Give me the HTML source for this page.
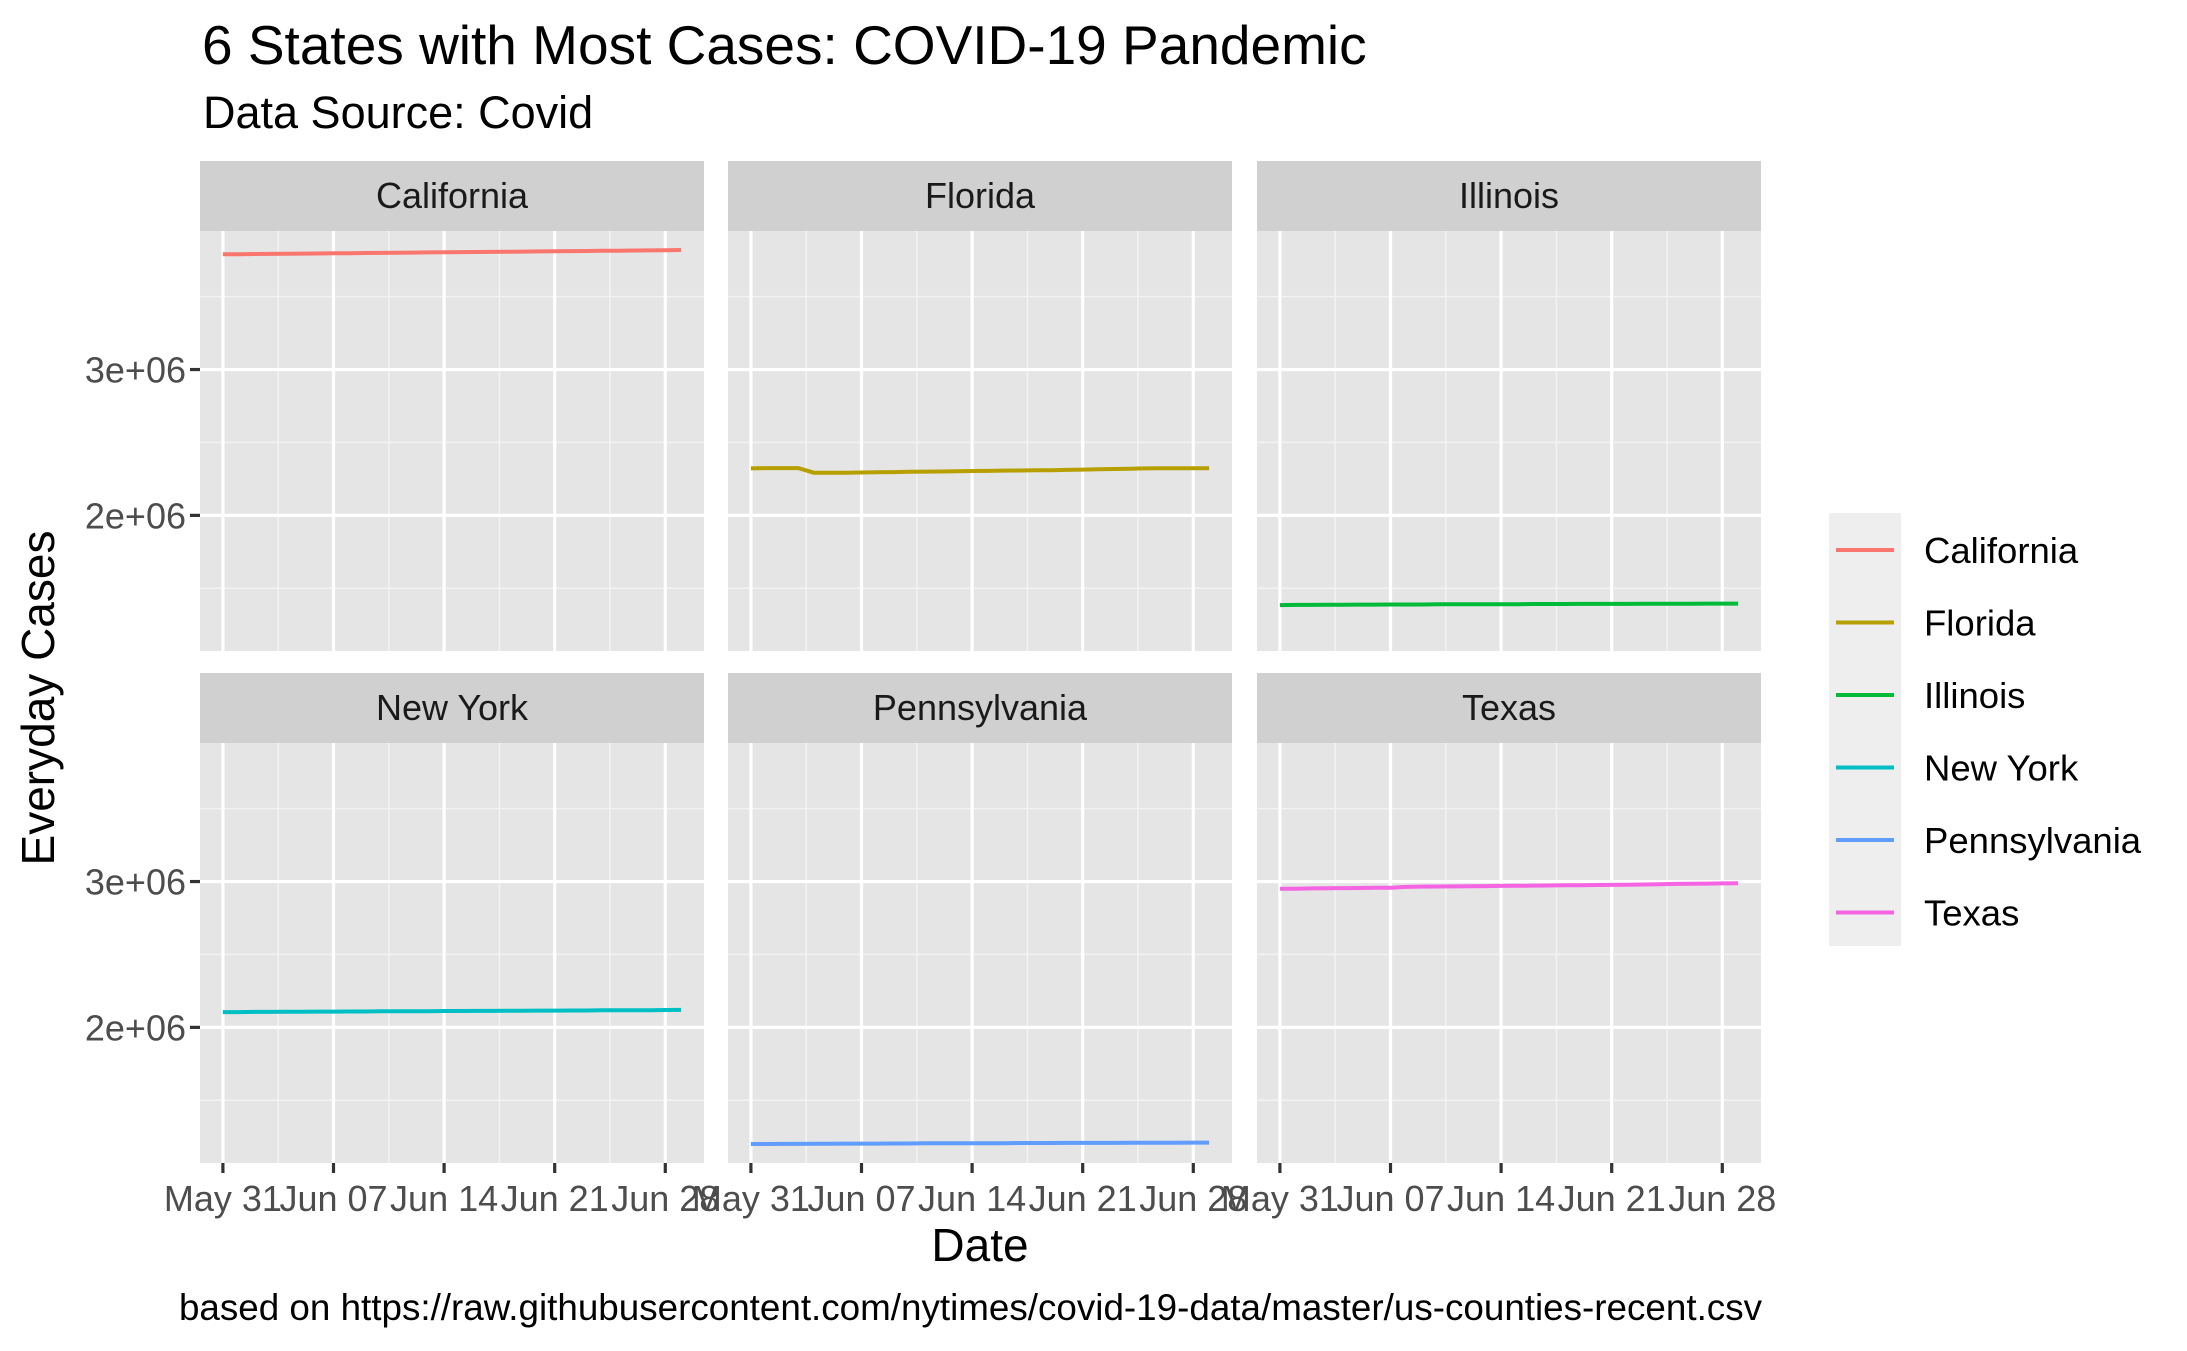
<!DOCTYPE html>
<html><head><meta charset="utf-8"><style>
html,body{margin:0;padding:0;background:#fff;}
svg{display:block;font-family:"Liberation Sans",Arial,sans-serif;}
</style></head><body>
<svg id="chart" width="2187" height="1351" viewBox="0 0 2187 1351">
<text x="202" y="64" font-size="55" fill="#000">6 States with Most Cases: COVID-19 Pandemic</text>
<text x="203" y="128" font-size="45" fill="#000">Data Source: Covid</text>
<text transform="translate(54,698) rotate(-90)" text-anchor="middle" font-size="46" fill="#000">Everyday Cases</text>
<text x="980" y="1261" text-anchor="middle" font-size="46" fill="#000">Date</text>
<text x="1762" y="1320" text-anchor="end" font-size="36.8" fill="#000">based on https://raw.githubusercontent.com/nytimes/covid-19-data/master/us-counties-recent.csv</text>
<g id="panels"></g>
<g id="legend"></g>
</svg>
<script>
const states = ["California","Florida","Illinois","New York","Pennsylvania","Texas"];
const colors = ["#F8766D","#B79F00","#00BA38","#00BFC4","#619CFF","#F564E3"];
const dayCount = 30; // May 31 .. Jun 29
const xTickDays = [0,7,14,21,28];
const xTickLabels = ["May 31","Jun 07","Jun 14","Jun 21","Jun 28"];
const yTicks = [2000000,3000000];
const yTickLabels = ["2e+06","3e+06"];
const caValues = [3.790,3.791,3.792,3.793,3.794,3.795,3.796,3.797,3.798,3.799,3.800,3.801,3.802,3.803,3.804,3.805,3.806,3.807,3.808,3.809,3.810,3.811,3.812,3.813,3.814,3.815,3.816,3.817,3.818,3.820];
const flValues = [2.322,2.324,2.324,2.324,2.292,2.292,2.292,2.294,2.296,2.297,2.299,2.300,2.301,2.303,2.304,2.305,2.307,2.308,2.309,2.310,2.312,2.314,2.316,2.318,2.320,2.322,2.323,2.323,2.323,2.323];
const ilValues = [1.385,1.386,1.386,1.387,1.387,1.388,1.388,1.389,1.389,1.389,1.390,1.390,1.390,1.391,1.391,1.391,1.392,1.392,1.392,1.393,1.393,1.393,1.393,1.394,1.394,1.394,1.394,1.395,1.395,1.395];
const nyValues = [2.105,2.105,2.106,2.106,2.107,2.107,2.108,2.108,2.109,2.109,2.110,2.110,2.111,2.111,2.112,2.112,2.113,2.113,2.114,2.114,2.115,2.115,2.116,2.116,2.117,2.117,2.118,2.118,2.119,2.120];
const paValues = [1.200,1.200,1.201,1.201,1.202,1.202,1.203,1.203,1.203,1.204,1.204,1.205,1.205,1.205,1.206,1.206,1.206,1.207,1.207,1.207,1.208,1.208,1.208,1.208,1.209,1.209,1.209,1.209,1.210,1.210];
const txValues = [2.950,2.951,2.953,2.954,2.955,2.956,2.957,2.958,2.963,2.965,2.966,2.967,2.968,2.969,2.970,2.971,2.972,2.973,2.974,2.975,2.976,2.977,2.978,2.980,2.982,2.984,2.985,2.986,2.987,2.988];
const seriesValues = [caValues,flValues,ilValues,nyValues,paValues,txValues];

const NS="http://www.w3.org/2000/svg";
function mk(tag,attrs,parent){const e=document.createElementNS(NS,tag);for(const k in attrs)e.setAttribute(k,attrs[k]);parent.appendChild(e);return e;}
const colX=[200,728,1257], panelW=504;
const rowStripTop=[161,673], rowPanelTop=[231,743], panelH=420;
const xMin=-1.45, xMax=30.45, yMin=1.07e6, yMax=3.95e6;
function sx(c,d){return colX[c]+(d-xMin)/(xMax-xMin)*panelW;}
function sy(r,v){return rowPanelTop[r]+panelH-(v-yMin)/(yMax-yMin)*panelH;}
const panels=document.getElementById('panels');
for(let i=0;i<6;i++){
  const c=i%3,r=Math.floor(i/3);
  const g=mk('g',{},panels);
  
  
  const strip=mk('rect',{x:colX[c],y:rowStripTop[r],width:panelW,height:70,fill:'#D0D0D0'},g);
  
  
  const st=mk('text',{x:colX[c]+panelW/2,y:rowStripTop[r]+47,'text-anchor':'middle','font-size':36,fill:'#1A1A1A'},g);
  st.textContent=states[i];
  
  
  const bg=mk('rect',{x:colX[c],y:rowPanelTop[r],width:panelW,height:panelH,fill:'#E5E5E5'},g);
  
  
  const top=rowPanelTop[r], bot=top+panelH, L=colX[c], R=L+panelW;
  [1.5e6,2.5e6,3.5e6].forEach(v=>{const y=sy(r,v);const l=mk('line',{x1:L,x2:R,y1:y,y2:y,stroke:'#F2F2F2','stroke-width':1.6},g);});
  [3.5,10.5,17.5,24.5].forEach(d=>{const x=sx(c,d);const l=mk('line',{x1:x,x2:x,y1:top,y2:bot,stroke:'#F2F2F2','stroke-width':1.6},g);});
  yTicks.forEach(v=>{const y=sy(r,v);const l=mk('line',{x1:L,x2:R,y1:y,y2:y,stroke:'#fff','stroke-width':3.2},g);});
  xTickDays.forEach(d=>{const x=sx(c,d);const l=mk('line',{x1:x,x2:x,y1:top,y2:bot,stroke:'#fff','stroke-width':3.2},g);});
  const vals=seriesValues[i];
  const pts=vals.map((v,d)=>sx(c,d).toFixed(1)+','+sy(r,v*1e6).toFixed(1)).join(' ');
  const pl=mk('polyline',{points:pts,fill:'none',stroke:colors[i],'stroke-width':4,'stroke-linejoin':'round'},g);
  
  
  if(c===0){
    yTicks.forEach((v,k)=>{const y=sy(r,v);
      const t=mk('line',{x1:L-10,x2:L,y1:y,y2:y,stroke:'#333','stroke-width':3.2},g);
      
      const tl=mk('text',{x:L-14,y:y+13,'text-anchor':'end','font-size':36,fill:'#4D4D4D'},g);
      tl.textContent=yTickLabels[k];
      });
  }
  if(r===1){
    xTickDays.forEach((d,k)=>{const x=sx(c,d);
      const t=mk('line',{x1:x,x2:x,y1:bot,y2:bot+10,stroke:'#333','stroke-width':3.2},g);
      
      const tl=mk('text',{x:x,y:bot+48,'text-anchor':'middle','font-size':36,fill:'#4D4D4D'},g);
      tl.textContent=xTickLabels[k];
      });
  }
}
const lg=document.getElementById('legend');
const lbg=mk('rect',{x:1829,y:513,width:72,height:433,fill:'#EEEEEE'},lg);


states.forEach((s,i)=>{
  const y=550+i*72.5;
  const e=mk('g',{},lg);
  
  
  mk('line',{x1:1836,x2:1894,y1:y,y2:y,stroke:colors[i],'stroke-width':4},e);
  const t=mk('text',{x:1924,y:y+13,'font-size':36.5,fill:'#000'},e);
  t.textContent=s;
});
</script>
</body></html>
